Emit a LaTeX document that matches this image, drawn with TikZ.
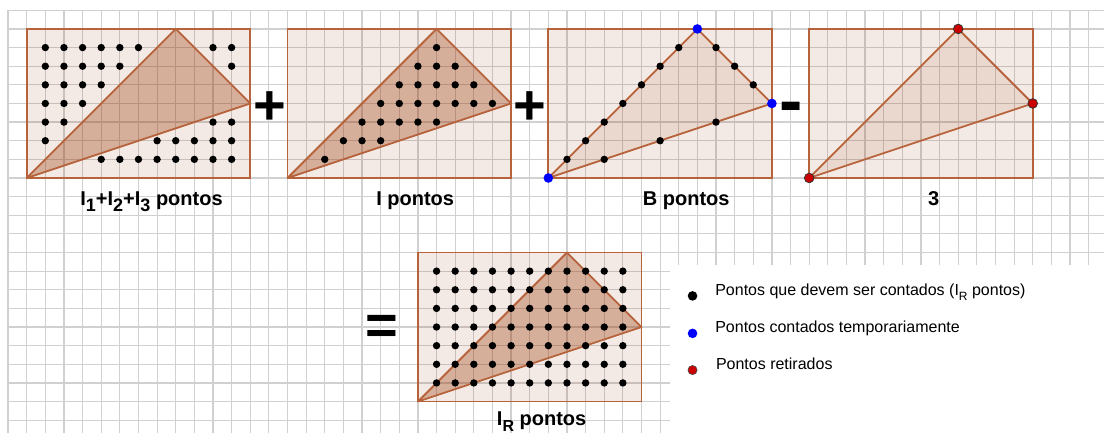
\documentclass[tikz,border=0pt]{standalone}
\usepackage{fontspec}
\setmainfont{Liberation Sans}
\definecolor{gline}{RGB}{208,208,208}
\definecolor{brn}{RGB}{182,98,58}
\definecolor{basec}{RGB}{153,51,0}
\definecolor{bluep}{RGB}{0,0,255}
\definecolor{redp}{RGB}{204,0,0}
\newcommand\pnl[3]{%
  \fill[basec, fill opacity=0.1] (#1,#2) rectangle ++(12,8);
  \fill[basec, fill opacity=#3] (#1,#2) -- ++(8,8) -- ++(4,-4) -- cycle;
  \draw[brn, line width=1.8pt] (#1,#2) rectangle ++(12,8);
  \draw[brn, line width=1.8pt, line join=round] (#1,#2) -- ++(8,8) -- ++(4,-4) -- cycle;
}
\newcommand\sbd[1]{\raisebox{-6.5pt}{\fontsize{18}{18}\selectfont #1}}
\newcommand\sbr[1]{\raisebox{-6.5pt}{\fontsize{16}{16}\selectfont #1}}
\newcommand\sbl[1]{\raisebox{-4.5pt}{\fontsize{12}{12}\selectfont #1}}
\tikzset{
  lbl/.style={font=\fontsize{20}{24}\selectfont\bfseries, inner sep=0pt, anchor=base},
  opsign/.style={font=\fontsize{56}{60}\selectfont\bfseries, inner sep=0pt, anchor=center},
  leg/.style={font=\fontsize{16}{19}\selectfont, inner sep=0pt, anchor=base west},
}
\begin{document}
\begin{tikzpicture}[x=18.63pt,y=18.63pt]
\useasboundingbox (-1.433,-13.688) rectangle (57.826,9.554);
\fill[white] (-1.433,-13.688) rectangle (57.826,9.554);
% grid
\draw[gline, line width=1.2pt, step=1] (-1,-13.688) grid (57.826,9);
\fill[white] (34.53,-4.67) rectangle (57.9,-13.8);
% panels
\pnl{0}{0}{0.32}
\pnl{14}{0}{0.32}
\pnl{28}{0}{0.1}
\pnl{42}{0}{0.1}
\pnl{21}{-12}{0.32}
% dots panel 1 (outside triangle)
\foreach \i in {1,...,11}{\foreach \j in {1,...,7}{%
  \pgfmathtruncatemacro\ok{(\j>\i)||(\i+\j>16)||(3*\j<\i)}%
  \ifnum\ok=1 \fill (\i,\j) circle[radius=3.7pt];\fi
}}
% dots panel 2 (inside triangle)
\foreach \i in {1,...,11}{\foreach \j in {1,...,7}{%
  \pgfmathtruncatemacro\ok{(\j<\i)&&(3*\j>\i)&&(\i+\j<16)}%
  \ifnum\ok=1 \fill (14+\i,\j) circle[radius=3.7pt];\fi
}}
% dots panel 3 (boundary)
\foreach \k in {1,...,7}{\fill (28+\k,\k) circle[radius=3.7pt];}
\foreach \k in {1,2,3}{\fill (36+\k,8-\k) circle[radius=3.7pt];
  \fill (28+3*\k,\k) circle[radius=3.7pt];}
\foreach \p in {(28,0),(36,8),(40,4)}{\fill[bluep] \p circle[radius=4.8pt];}
% panel 4 red
\foreach \p in {(42,0),(50,8),(54,4)}{\filldraw[fill=redp, draw=black!80, line width=0.8pt] \p circle[radius=4.8pt];}
% panel 5 all interior
\foreach \i in {1,...,11}{\foreach \j in {1,...,7}{%
  \fill (21+\i,-12+\j) circle[radius=3.7pt];
}}
% operators
\node[opsign] (plusA) at (13.03,3.75) {+};
\node[opsign] (plusB) at (27.02,3.73) {+};
\node[opsign, font=\fontsize{70}{74}\selectfont\bfseries] (minusA) at (41.01,3.48) {-};
\node[opsign] (eqA) at (19.05,-8.14) {=};
% labels
\node[lbl] (labA) at (6.7,-1.45) {I\sbd{1}+I\sbd{2}+I\sbd{3} pontos};
\node[lbl] (labB) at (20.85,-1.45) {I pontos};
\node[lbl] (labC) at (35.4,-1.45) {B pontos};
\node[lbl] (labD) at (48.68,-1.45) {3};
\node[lbl] (labE) at (27.64,-13.26) {I\sbr{R} pontos};
% legend
\fill (35.74,-6.33) circle[radius=4.8pt];
\fill[bluep] (35.74,-8.34) circle[radius=4.8pt];
\filldraw[fill=redp, draw=black!70, line width=0.6pt] (35.74,-10.31) circle[radius=4.6pt];
\node[leg] (legA) at (36.95,-6.32) {Pontos que devem ser contados (I\sbl{R} pontos)};
\node[leg] (legB) at (36.95,-8.30) {Pontos contados temporariamente};
\node[leg] (legC) at (36.99,-10.27) {Pontos retirados};
\end{tikzpicture}
\end{document}
